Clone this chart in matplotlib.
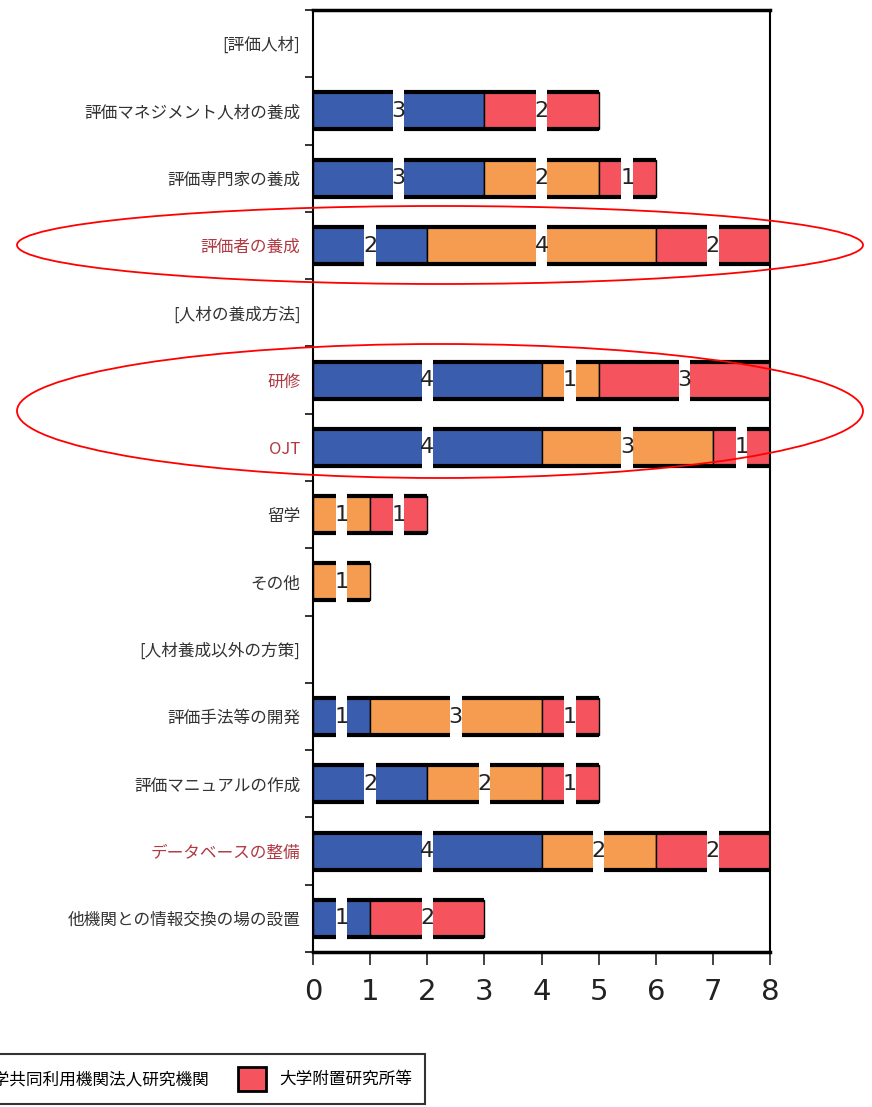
import numpy as np
import matplotlib
matplotlib.use('Agg')
import matplotlib.pyplot as plt
from matplotlib.patches import Ellipse

# rows top to bottom; bracketed rows are group headers
categories = ['[評価人材]', '評価マネジメント人材の養成', '評価専門家の養成', '評価者の養成',
              '[人材の養成方法]', '研修', 'OJT', '留学', 'その他',
              '[人材養成以外の方策]', '評価手法等の開発', '評価マニュアルの作成',
              'データベースの整備', '他機関との情報交換の場の設置']
highlighted = ['評価者の養成', '研修', 'OJT', 'データベースの整備']

series_names = ['独立行政法人', '大学共同利用機関法人研究機関', '大学附置研究所等']
blue_vals = [0, 3, 3, 2, 0, 4, 4, 0, 0, 0, 1, 2, 4, 1]
orange_vals = [0, 0, 2, 4, 0, 1, 3, 1, 1, 0, 3, 2, 2, 0]
red_vals = [0, 2, 1, 2, 0, 3, 1, 1, 0, 0, 1, 1, 2, 2]
colors = ['#3A5DAE', '#F59C50', '#F5535D']
xticks = [0, 1, 2, 3, 4, 5, 6, 7, 8]

JP = ['Noto Sans CJK JP', 'DejaVu Sans']
NUM = ['DejaVu Sans']


def main():
    fig = plt.figure(figsize=(8.72, 11.07), dpi=100)
    ax = fig.add_axes([313 / 872, 1 - 952 / 1107, 457 / 872, 942 / 1107])

    y = np.arange(len(categories))
    left = np.zeros(len(categories))
    bar_h = 0.55
    handles = []
    for vals, color, name in zip([blue_vals, orange_vals, red_vals], colors, series_names):
        vals = np.array(vals, dtype=float)
        nz = vals > 0
        bars = ax.barh(y[nz], vals[nz], left=left[nz], height=bar_h, color=color,
                       edgecolor='black', linewidth=1, label=name, zorder=2)
        handles.append(bars)
        for yi in y[nz]:
            cx = left[yi] + vals[yi] / 2
            # white gap behind the count label
            ax.barh(yi, 0.2, left=cx - 0.1, height=bar_h + 0.14,
                    color='white', linewidth=0, zorder=3)
            ax.text(cx, yi, '%d' % vals[yi], ha='center', va='center', fontsize=16,
                    family=NUM, color='#222222', zorder=4)
        left += vals

    # heavy top / bottom borders of each bar
    mask = left > 0
    ax.hlines(y[mask] - bar_h / 2, 0, left[mask], color='black', lw=3, zorder=2.5)
    ax.hlines(y[mask] + bar_h / 2, 0, left[mask], color='black', lw=3, zorder=2.5)

    ax.set_xlim(0, 8)
    ax.set_ylim(len(categories) - 0.5, -0.5)

    ax.set_yticks(np.arange(-0.5, len(categories), 1))
    ax.set_yticklabels([])
    ax.set_yticks(y, minor=True)
    ax.set_yticklabels(categories, minor=True, fontsize=12, family=JP)
    for lbl in ax.get_yticklabels(minor=True):
        lbl.set_color('#B03A44' if lbl.get_text() in highlighted else '#333333')
    ax.tick_params(axis='y', which='minor', length=0, pad=9)
    ax.tick_params(axis='y', which='major', length=6, width=1.3, color='#222222')

    ax.set_xticks(xticks)
    ax.set_xticklabels([str(t) for t in xticks], fontsize=21, family=NUM, color='#222222')
    ax.tick_params(axis='x', length=9, width=1.2, pad=10, color='#222222')

    ax.spines['top'].set_linewidth(2.5)
    ax.spines['bottom'].set_linewidth(2.5)
    ax.spines['left'].set_linewidth(1.5)
    ax.spines['right'].set_linewidth(1.5)

    # red ellipses marking the highlighted rows
    fig.add_artist(Ellipse((440 / 872, 1 - 245 / 1107), 846 / 872, 78 / 1107,
                           transform=fig.transFigure, fill=False, edgecolor='red', lw=1.3))
    fig.add_artist(Ellipse((440 / 872, 1 - 411 / 1107), 846 / 872, 134 / 1107,
                           transform=fig.transFigure, fill=False, edgecolor='red', lw=1.3))

    # legend is cropped at the left edge, as in the source image
    leg = fig.legend(handles, series_names, ncol=3, loc='upper right',
                     bbox_to_anchor=(425 / 872, 1 - 1054 / 1107), bbox_transform=fig.transFigure,
                     prop={'family': JP, 'size': 12}, frameon=True, fancybox=False,
                     edgecolor='black', borderaxespad=0, handlelength=1.68, handleheight=1.9,
                     handletextpad=0.84, columnspacing=1.68, borderpad=0.75)
    leg.get_frame().set_linewidth(1.5)
    for h in leg.legend_handles:
        h.set_linewidth(2)

    fig.savefig('out.png', dpi=100)


if __name__ == "__main__":
    main()
